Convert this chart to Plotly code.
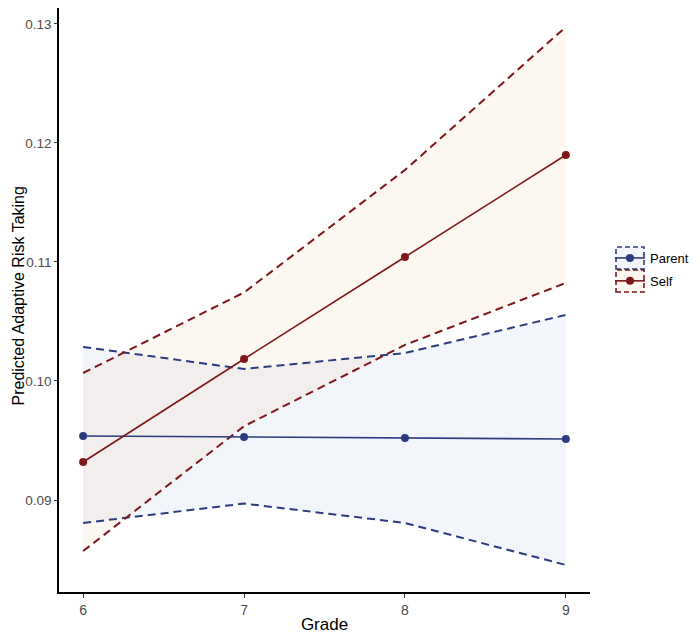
import plotly.graph_objects as go

grades = [6, 7, 8, 9]
parent_mean = [0.09538, 0.09529, 0.09521, 0.09513]
parent_upper = [0.10286, 0.10101, 0.10235, 0.10555]
parent_lower = [0.08807, 0.08970, 0.08807, 0.08454]
self_mean = [0.09319, 0.10185, 0.11042, 0.11899]
self_upper = [0.10067, 0.10744, 0.11773, 0.12975]
self_lower = [0.08571, 0.09620, 0.10303, 0.10824]

x_ticks = [6, 7, 8, 9]
y_ticks = [0.09, 0.10, 0.11, 0.12, 0.13]
y_tick_labels = ["0.09", "0.10", "0.11", "0.12", "0.13"]

PARENT = "#2B3C7E"
SELF = "#7D1719"
PARENT_FILL = "rgba(175,198,228,0.17)"
SELF_FILL = "rgba(240,205,170,0.17)"

fig = go.Figure()

for name, lo, hi, fillc in [("Parent", parent_lower, parent_upper, PARENT_FILL),
                            ("Self", self_lower, self_upper, SELF_FILL)]:
    fig.add_trace(go.Scatter(x=grades + grades[::-1], y=hi + lo[::-1], fill="toself",
                             fillcolor=fillc, line=dict(width=0), mode="lines",
                             showlegend=False, hoverinfo="skip"))

for name, lo, hi, col in [("Parent", parent_lower, parent_upper, PARENT),
                          ("Self", self_lower, self_upper, SELF)]:
    for arr in (lo, hi):
        fig.add_trace(go.Scatter(x=grades, y=arr, mode="lines",
                                 line=dict(color=col, width=2, dash="8px,5px"),
                                 showlegend=False, hoverinfo="skip"))

for name, m, col in [("Parent", parent_mean, PARENT), ("Self", self_mean, SELF)]:
    fig.add_trace(go.Scatter(x=grades, y=m, mode="lines+markers", name=name,
                             legendgroup=name,
                             line=dict(color=col, width=1.6),
                             marker=dict(color=col, size=8)))

# page has an 8px body margin: size the figure so the plot lands where the reference has it
OFF = 8
W, H = 700 - OFF, 634 - OFF
ml, mr, mt, mb = 59 - OFF, 110, 0, 42
pw, ph = W - ml - mr, H - mt - mb

def px_to_paper(xp, yp):
    # xp, yp in window pixels
    return (xp - OFF - ml) / pw, (H - mb - (yp - OFF)) / ph

# legend key boxes (dashed outlines like ggplot ribbon keys)
for (y0p, y1p, col, fillc) in [(247, 269, PARENT, PARENT_FILL), (270, 292, SELF, SELF_FILL)]:
    x0, y1 = px_to_paper(616, y0p)
    x1, y0 = px_to_paper(644, y1p)
    fig.add_shape(type="rect", xref="paper", yref="paper", x0=x0, x1=x1, y0=y0, y1=y1,
                  line=dict(color=col, width=1.6, dash="5px,3px"), fillcolor=fillc)

# y-axis title placed as a rotated annotation (left edge of the figure is at window x=8)
tx, ty = px_to_paper(8, 296)
fig.add_annotation(text="Predicted Adaptive Risk Taking", textangle=-90,
                   xref="paper", yref="paper", x=tx, y=ty, xanchor="left", yanchor="middle",
                   showarrow=False, borderpad=0,
                   font=dict(size=16, color="black"))

lx, ly = px_to_paper(610, 243)
fig.update_layout(
    width=W, height=H,
    margin=dict(l=ml, r=mr, t=mt, b=mb),
    plot_bgcolor="white", paper_bgcolor="white",
    font=dict(family="Liberation Sans, Arial, sans-serif", color="black"),
    legend=dict(x=lx, xanchor="left", y=ly, yanchor="top",
                font=dict(size=13, color="black"), bgcolor="rgba(0,0,0,0)",
                itemwidth=30, tracegroupgap=3, borderwidth=0),
    xaxis=dict(range=[5.85, 9.15], tickvals=x_ticks, ticktext=[str(v) for v in x_ticks],
               showgrid=False, zeroline=False, showline=True, linecolor="black", linewidth=1.5,
               ticks="outside", ticklen=4, tickcolor="#333333", tickwidth=1.2,
               tickfont=dict(size=14, color="#4D4D4D"),
               title=dict(text="Grade", font=dict(size=17, color="black"), standoff=3)),
    yaxis=dict(range=[0.08227, 0.13134], tickvals=y_ticks, ticktext=y_tick_labels,
               showgrid=False, zeroline=False, showline=True, linecolor="black", linewidth=1.5,
               ticks="outside", ticklen=3, tickcolor="#333333", tickwidth=1.2,
               tickfont=dict(size=13.5, color="#4D4D4D")),
)

fig.write_html("out.html")
